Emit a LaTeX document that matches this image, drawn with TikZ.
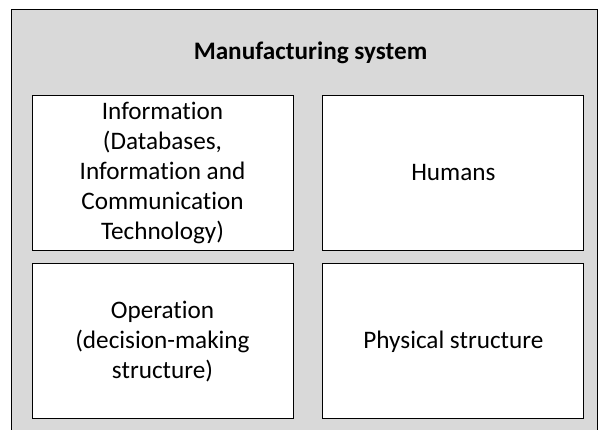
\documentclass[tikz,border=0pt]{standalone}
\usepackage{fontspec}
\setmainfont{Carlito}[Ligatures=NoCommon]
\usetikzlibrary{positioning}
\definecolor{panelgray}{RGB}{217,217,217}

\begin{document}
\begin{tikzpicture}[x=1pt, y=-1pt, node distance=13pt and 29pt, every node/.style={rectangle, align=center, font=\fontsize{25.2}{30}\selectfont}, line width=0.9pt]
	\tikzstyle{part} = [draw, fill=white, minimum width=261pt, minimum height=155pt, inner sep=0pt]
	\tikzstyle{heading} = [font=\fontsize{25.2}{30}\selectfont\bfseries]

	\useasboundingbox (0,0) rectangle (599,430);
	% grey panel, its lower edge runs off the page
	\fill[panelgray] (11,9) rectangle (597,430);
	\draw (11,430) -- (11,9) -- (597,9) -- (597,430);

	\node[heading, anchor=base] (title) at (310.5,60) {Manufacturing system};
	\node[part] (info) at (162.5,172.5) {Information\\(Databases,\\Information and\\Communication\\Technology)};
	\node[part] (humans) [right=of info] {Humans};
	\node[part] (operation) [below=of info] {Operation\\(decision-making\\structure)};
	\node[part] (physical) [below=of humans] {Physical structure};
\end{tikzpicture}
\end{document}
